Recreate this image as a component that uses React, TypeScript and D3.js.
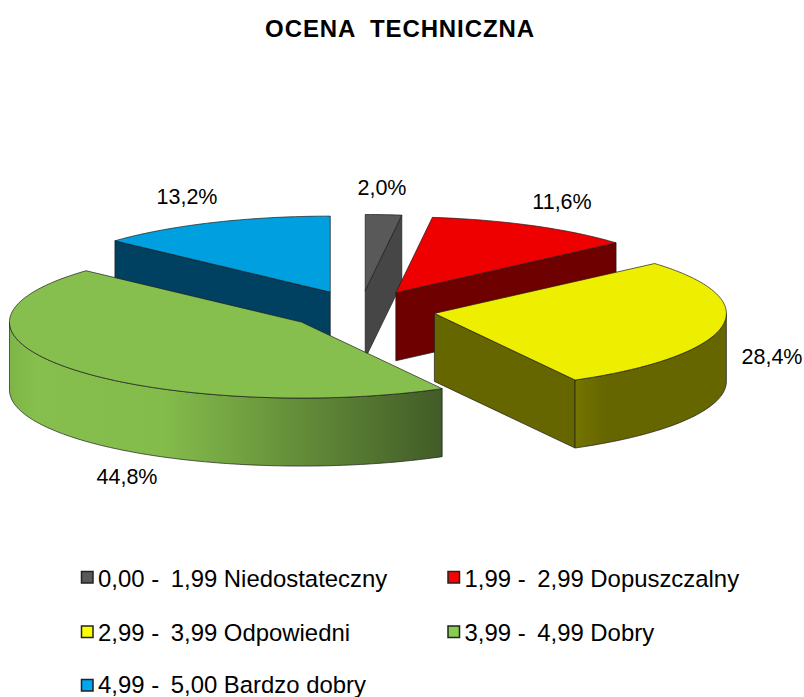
import React from 'react';
import * as d3 from 'd3';

const title = 'OCENA TECHNICZNA';
const ranges = ['0,00 - ', '1,99 - ', '2,99 - ', '3,99 - ', '4,99 - '];
const categories = [
  '1,99 Niedostateczny',
  '2,99 Dopuszczalny',
  '3,99 Odpowiedni',
  '4,99 Dobry',
  '5,00 Bardzo dobry',
];
const shares = [2.0, 11.6, 28.4, 44.8, 13.2];
const shareLabels = ['2,0%', '11,6%', '28,4%', '44,8%', '13,2%'];
const topColors = ['#595959', '#ee0000', '#eeee00', '#86bf4d', '#00a0e0'];
const wallColors = ['#464646', '#6e0000', '#666600', '#86bf4d', '#004060'];
const swatchColors = ['#595959', '#ff0000', '#ffff00', '#86cc4d', '#00a8f0'];

// pie geometry, fitted to the picture
const cx = 360.5;
const cy = 310;
const rx = 292;
const ry = 76;
const depth = 68;
const explode = 0.257;

// label centres and legend layout
const labelX = [382, 562, 772, 127, 187];
const labelY = [188, 202, 357, 477, 197];
const legendX = [81.5, 448, 81.5, 448, 81.5];
const swatchY = [571.5, 571.5, 626, 626, 679.5];
const baselineY = [587, 587, 641, 641, 693];

const WIDTH = 804;
const HEIGHT = 697;
const FONT = '"Liberation Sans", Arial, sans-serif';

const pie = d3.pie<number>().sort(null).value((d) => d);
const toPath = d3.line<[number, number]>();

const App = () => {
  const arcs = pie(shares);
  // back-to-front painting order, blue goes first
  const order = [4, 0, 1, 2, 3];

  const slices = order.map((i) => {
    const a = arcs[i];
    const mid = (a.startAngle + a.endAngle) / 2;
    const ax = cx + Math.sin(mid) * rx * explode;
    const ay = cy - Math.cos(mid) * ry * explode;
    const rim = (t: number): [number, number] => [ax + Math.sin(t) * rx, ay - Math.cos(t) * ry];
    const down = (p: [number, number]): [number, number] => [p[0], p[1] + depth];
    const apex: [number, number] = [ax, ay];

    const angles = (t0: number, t1: number) => {
      const n = Math.max(2, Math.ceil((t1 - t0) / 0.02));
      return d3.range(n + 1).map((k) => t0 + ((t1 - t0) * k) / n);
    };

    const topPts = [apex, ...angles(a.startAngle, a.endAngle).map(rim), apex];
    const walls: { d: string; fill: string }[] = [];

    // radial faces that look toward the viewer
    if (Math.sin(a.endAngle) > 0.01) {
      const p = rim(a.endAngle);
      walls.push({ d: toPath([apex, p, down(p), down(apex), apex])!, fill: wallColors[i] });
    }
    if (Math.sin(a.startAngle) < -0.01) {
      const p = rim(a.startAngle);
      walls.push({ d: toPath([apex, p, down(p), down(apex), apex])!, fill: wallColors[i] });
    }

    // outer rim, only the front half shows
    const t0 = Math.max(a.startAngle, Math.PI / 2);
    const t1 = Math.min(a.endAngle, (3 * Math.PI) / 2);
    if (t1 > t0) {
      const pts = angles(t0, t1).map(rim);
      const fill = i === 3 ? 'url(#greenRim)' : i === 2 ? 'url(#yellowRim)' : wallColors[i];
      walls.push({ d: toPath([...pts, ...pts.slice().reverse().map(down), pts[0]])!, fill });
    }

    return { i, walls, top: toPath(topPts)! };
  });

  return (
    <svg
      width={WIDTH}
      height={HEIGHT}
      style={{ position: 'absolute', left: 0, top: 0, background: '#fff' }}
      fontFamily={FONT}
    >
      <defs>
        <linearGradient id="greenRim" gradientUnits="userSpaceOnUse" x1={10} x2={447} y1={0} y2={0}>
          <stop offset="0" stopColor="#7fb548" />
          <stop offset="0.06" stopColor="#86bf4d" />
          <stop offset="0.35" stopColor="#84bc4b" />
          <stop offset="1" stopColor="#405a26" />
        </linearGradient>
        <linearGradient id="yellowRim" gradientUnits="userSpaceOnUse" x1={574} x2={726} y1={0} y2={0}>
          <stop offset="0" stopColor="#757500" />
          <stop offset="0.2" stopColor="#666600" />
          <stop offset="1" stopColor="#666600" />
        </linearGradient>
      </defs>

      <text
        x={400}
        y={37}
        textAnchor="middle"
        fontSize={24}
        fontWeight="bold"
        fill="#000"
        letterSpacing={0.9}
        wordSpacing={7}
      >
        {title}
      </text>

      {slices.map((s) => (
        <g key={s.i} stroke="#1c1c1c" strokeWidth={0.7} strokeLinejoin="round">
          {s.walls.map((w, k) => (
            <path key={k} d={w.d} fill={w.fill} />
          ))}
          <path d={s.top} fill={topColors[s.i]} />
        </g>
      ))}

      {shareLabels.map((t, i) => (
        <text key={t} x={labelX[i]} y={labelY[i] + 7} textAnchor="middle" fontSize={21.5} fill="#000">
          {t}
        </text>
      ))}

      {categories.map((c, i) => (
        <g key={c}>
          <rect
            x={legendX[i]}
            y={swatchY[i]}
            width={11.5}
            height={11.5}
            fill={swatchColors[i]}
            stroke="#222"
            strokeWidth={1.5}
          />
          <text x={legendX[i] + 16.5} y={baselineY[i]} fontSize={23.9} fill="#000">
            {ranges[i]}
            <tspan dx={5}>{c}</tspan>
          </text>
        </g>
      ))}
    </svg>
  );
};

export default App;
